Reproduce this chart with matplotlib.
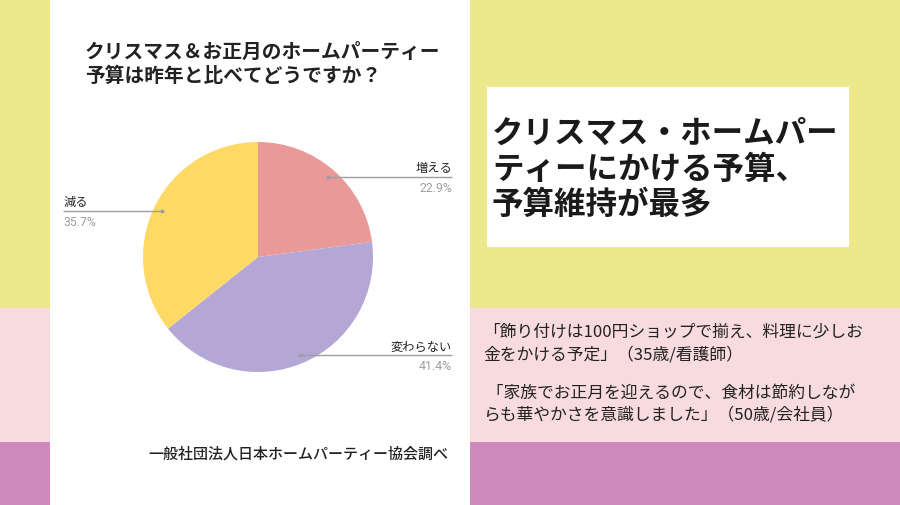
import matplotlib
matplotlib.use("Agg")
import matplotlib.pyplot as plt
from matplotlib.patches import Rectangle
import numpy as np

plt.rcParams['font.family'] = ['Noto Sans CJK JP', 'DejaVu Sans']

# ---- data ----
categories = ['増える', '変わらない', '減る']
values = [22.9, 41.4, 35.7]
pct_labels = ['22.9%', '41.4%', '35.7%']
slice_colors = ['#EA9999', '#B4A7D6', '#FFD966']
chart_title = ['クリスマス＆お正月のホームパーティー', '予算は昨年と比べてどうですか？']
headline = ['クリスマス・ホームパー', 'ティーにかける予算、', '予算維持が最多']
quotes = ['「飾り付けは100円ショップで揃え、料理に少しお',
          '金をかける予定」（35歳/看護師）',
          ' 「家族でお正月を迎えるので、食材は節約しなが',
          'らも華やかさを意識しました」（50歳/会社員）']
source = '一般社団法人日本ホームパーティー協会調べ'

W, H = 900, 506
fig = plt.figure(figsize=(W / 100, H / 100), dpi=100)


def fx(x):
    return x / W


def fy(y):
    return 1 - y / H


def rect(x0, y0, x1, y1, color):
    fig.patches.append(Rectangle((fx(x0), fy(y1)), (x1 - x0) / W, (y1 - y0) / H,
                                 transform=fig.transFigure, facecolor=color,
                                 edgecolor='none', zorder=-5))


# background bands
rect(0, 0, W, 309, '#ECE98D')
rect(0, 309, W, 443, '#F7DBDE')
rect(0, 443, W, H, '#CD89BC')
# white panel & headline box
rect(50, 0, 470, H, '#FFFFFF')
rect(487, 88, 849, 248, '#FFFFFF')

# chart title
for i, line in enumerate(chart_title):
    fig.text(fx(85), fy(52 + i * 24), line, fontsize=14.2, fontweight='bold',
             color='#222222', va='center', ha='left', zorder=5)

# pie axes: 1 data unit = 115 px, centre at (258, 258)
cx, cy, R = 258, 258, 115
ax_x0, ax_x1, ax_y0, ax_y1 = 50, 470, 100, 420
ax = fig.add_axes([fx(ax_x0), fy(ax_y1), (ax_x1 - ax_x0) / W, (ax_y1 - ax_y0) / H])
ax.set_zorder(3)
ax.patch.set_visible(False)

wedges, _ = ax.pie(values, colors=slice_colors, startangle=90, counterclock=False,
                   radius=1, wedgeprops=dict(linewidth=0))
ax.set_aspect('auto')
ax.set_xlim((ax_x0 - cx) / R, (ax_x1 - cx) / R)
ax.set_ylim((cy - ax_y1) / R, (cy - ax_y0) / R)
ax.axis('off')

label_x = {'増える': (452 - cx) / R, '変わらない': (452 - cx) / R, '減る': (63 - cx) / R}
for w, cat, pct in zip(wedges, categories, pct_labels):
    mid = np.deg2rad((w.theta1 + w.theta2) / 2)
    r_in = 0.93
    px, py = r_in * np.cos(mid), r_in * np.sin(mid)
    lx = label_x[cat]
    ax.plot([px, lx], [py, py], color='#9E9E9E', lw=1.0, solid_capstyle='butt')
    ax.plot([px], [py], marker='o', ms=1.8, color='#9E9E9E')
    ha = 'right' if lx > 0 else 'left'
    ax.text(lx, py + 0.02, cat, fontsize=8.8, color='#222222', ha=ha, va='bottom')
    ax.text(lx, py - 0.035, pct, fontsize=8.8, color='#9E9E9E', ha=ha, va='top',
            family=['Roboto', 'DejaVu Sans'])

# headline
headline_y = [134, 170, 205]
for y, line in zip(headline_y, headline):
    fig.text(fx(492), fy(y), line, fontsize=22.7, fontweight='bold',
             color='#1A1A1A', va='center', ha='left', zorder=5)

# quotes
quote_y = [332, 355, 393, 415]
for y, line in zip(quote_y, quotes):
    fig.text(fx(483), fy(y), line, fontsize=12.1, color='#222222',
             va='center', ha='left', zorder=5)

# source
fig.text(fx(148), fy(454), source, fontsize=10.8, fontweight='medium',
         color='#222222', va='center', ha='left', zorder=5)

fig.savefig('out.png', dpi=100)
